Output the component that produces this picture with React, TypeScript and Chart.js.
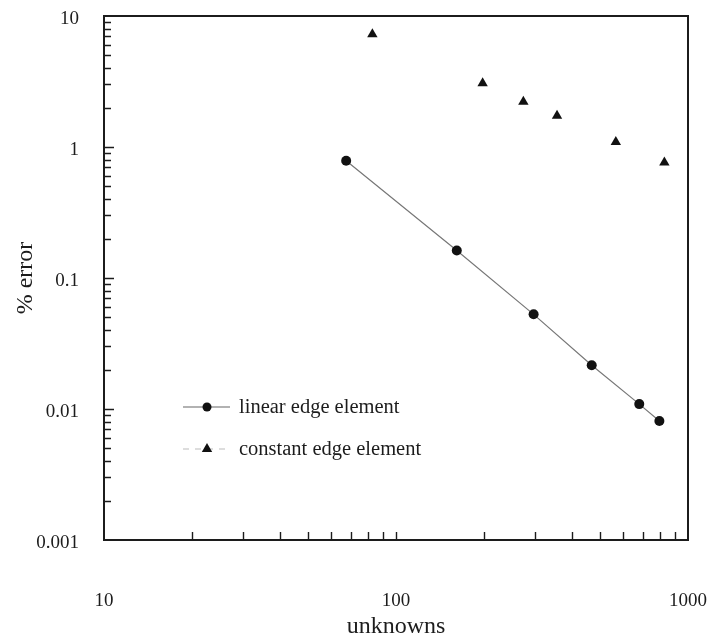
import React, { useEffect, useRef } from 'react';
import { Chart, registerables } from 'chart.js';

Chart.register(...registerables);

// ---- data ----
const linearX = [67.5, 161.5, 296, 468, 681, 798];
const linearY = [0.786, 0.162, 0.0528, 0.0216, 0.0109, 0.0081];
const constantX = [83, 198, 273, 356, 566, 830];
const constantY = [7.25, 3.06, 2.22, 1.73, 1.09, 0.76];

const xTickValues = [10, 100, 1000];
const xTickLabels = ['10', '100', '1000'];
const xMinorTicks = [20, 30, 40, 50, 60, 70, 80, 90, 100, 200, 300, 400, 500, 600, 700, 800, 900];

const yTickValues = [0.001, 0.01, 0.1, 1, 10];
const yTickLabels = ['0.001', '0.01', '0.1', '1', '10'];
const yMinorTicks = [
  0.002, 0.003, 0.004, 0.005, 0.006, 0.007, 0.008, 0.009,
  0.02, 0.03, 0.04, 0.05, 0.06, 0.07, 0.08, 0.09,
  0.2, 0.3, 0.4, 0.5, 0.6, 0.7, 0.8, 0.9,
  2, 3, 4, 5, 6, 7, 8, 9,
];
const yMajorTicks = [0.01, 0.1, 1];

const seriesNames = ['linear edge element', 'constant edge element'];

const FONT = "'Liberation Serif', 'Times New Roman', serif";
const INK = '#1c1c1c';

const framePlugin = {
  id: 'frameTicks',
  beforeDatasetsDraw(chart: any) {
    const { ctx, chartArea: a, scales } = chart;
    const xs = scales.x;
    const ys = scales.y;
    ctx.save();
    ctx.strokeStyle = INK;
    ctx.lineWidth = 1.4;
    ctx.beginPath();
    for (const v of xMinorTicks) {
      const px = Math.round(xs.getPixelForValue(v)) + 0.5;
      ctx.moveTo(px, a.bottom);
      ctx.lineTo(px, a.bottom - 8);
    }
    for (const v of yMinorTicks) {
      const py = Math.round(ys.getPixelForValue(v)) + 0.5;
      ctx.moveTo(a.left, py);
      ctx.lineTo(a.left + 7, py);
    }
    for (const v of yMajorTicks) {
      const py = Math.round(ys.getPixelForValue(v)) + 0.5;
      ctx.moveTo(a.left, py);
      ctx.lineTo(a.left + 10, py);
    }
    ctx.stroke();
    ctx.lineWidth = 2;
    ctx.strokeRect(a.left, a.top, a.right - a.left, a.bottom - a.top);
    ctx.restore();
  },
};

const legendPlugin = {
  id: 'innerLegend',
  afterDatasetsDraw(chart: any) {
    const { ctx, chartArea: a } = chart;
    const x0 = a.left + 79;
    const x1 = a.left + 126;
    const xm = a.left + 103;
    const xt = a.left + 135;
    const row1 = a.top + 391;
    const row2 = a.top + 433;
    ctx.save();
    ctx.strokeStyle = '#666';
    ctx.lineWidth = 1.2;
    ctx.beginPath();
    ctx.moveTo(x0, row1);
    ctx.lineTo(x1, row1);
    ctx.stroke();
    ctx.fillStyle = '#111';
    ctx.beginPath();
    ctx.arc(xm, row1, 4.5, 0, Math.PI * 2);
    ctx.fill();
    ctx.strokeStyle = '#bbb';
    ctx.setLineDash([6, 6]);
    ctx.beginPath();
    ctx.moveTo(x0, row2);
    ctx.lineTo(x1, row2);
    ctx.stroke();
    ctx.setLineDash([]);
    ctx.fillStyle = '#111';
    const r = 6;
    ctx.beginPath();
    ctx.moveTo(xm, row2 - r);
    ctx.lineTo(xm + r * 0.866, row2 + r * 0.5);
    ctx.lineTo(xm - r * 0.866, row2 + r * 0.5);
    ctx.closePath();
    ctx.fill();
    ctx.fillStyle = INK;
    ctx.font = `20.5px ${FONT}`;
    ctx.textBaseline = 'middle';
    ctx.textAlign = 'left';
    ctx.fillText(seriesNames[0], xt, row1 + 1);
    ctx.fillText(seriesNames[1], xt, row2 + 1);
    ctx.restore();
  },
};

export default function App() {
  const ref = useRef<HTMLCanvasElement>(null);

  useEffect(() => {
    document.body.style.margin = '0';
    const canvas = ref.current;
    if (!canvas) return;
    const chart = new Chart(canvas, {
      type: 'scatter',
      data: {
        datasets: [
          {
            label: seriesNames[0],
            data: linearX.map((x, i) => ({ x, y: linearY[i] })),
            showLine: true,
            borderColor: '#777',
            borderWidth: 1.2,
            pointStyle: 'circle',
            pointRadius: 5,
            pointBackgroundColor: '#111',
            pointBorderColor: '#111',
            pointBorderWidth: 0,
          },
          {
            label: seriesNames[1],
            data: constantX.map((x, i) => ({ x, y: constantY[i] })),
            showLine: false,
            pointStyle: 'triangle',
            pointRadius: 6,
            pointBackgroundColor: '#111',
            pointBorderColor: '#111',
            pointBorderWidth: 0,
          },
        ],
      },
      options: {
        animation: false,
        responsive: false,
        maintainAspectRatio: false,
        layout: { padding: { top: 16, right: 25, left: 0, bottom: 0 } },
        plugins: {
          legend: { display: false },
          tooltip: { enabled: false },
        },
        scales: {
          x: {
            type: 'logarithmic',
            min: 10,
            max: 1000,
            afterBuildTicks: (s: any) => {
              s.ticks = xTickValues.map((v) => ({ value: v }));
            },
            afterFit: (s: any) => {
              s.height = 101;
              s.paddingLeft = 0;
              s.paddingRight = 0;
            },
            ticks: {
              callback: (_v: any, i: number) => xTickLabels[i],
              font: { family: FONT, size: 19 },
              color: INK,
              padding: 50,
              maxRotation: 0,
              autoSkip: false,
            },
            grid: { display: false, drawTicks: false },
            border: { display: false },
            title: {
              display: true,
              text: 'unknowns',
              font: { family: FONT, size: 24 },
              color: INK,
              padding: { top: 0, bottom: 0 },
            },
          },
          y: {
            type: 'logarithmic',
            min: 0.001,
            max: 10,
            afterBuildTicks: (s: any) => {
              s.ticks = yTickValues.map((v) => ({ value: v }));
            },
            afterFit: (s: any) => {
              s.width = 104;
              s.paddingTop = 0;
              s.paddingBottom = 0;
            },
            ticks: {
              callback: (_v: any, i: number) => yTickLabels[i],
              font: { family: FONT, size: 19 },
              color: INK,
              padding: 25,
              labelOffset: 3,
              autoSkip: false,
            },
            grid: { display: false, drawTicks: false },
            border: { display: false },
            title: {
              display: true,
              text: '% error',
              font: { family: FONT, size: 24 },
              color: INK,
              padding: { top: 11, bottom: 0 },
            },
          },
        },
      },
      plugins: [framePlugin, legendPlugin],
    });
    return () => chart.destroy();
  }, []);

  return (
    <div style={{ position: 'fixed', left: 0, top: 0, width: 713, height: 641, background: '#fff' }}>
      <canvas ref={ref} width={713} height={641} style={{ width: 713, height: 641 }} />
    </div>
  );
}
